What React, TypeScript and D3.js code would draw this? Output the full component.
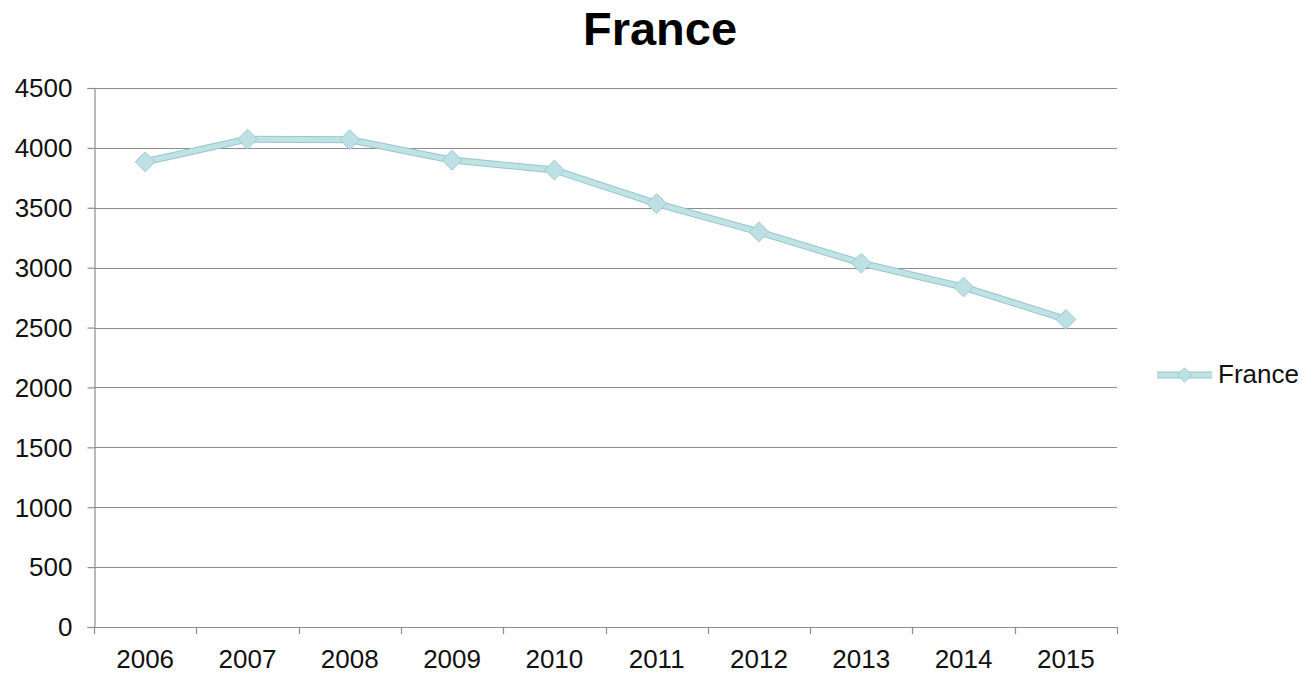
import React, { useEffect, useRef } from 'react'
import * as d3 from 'd3'

const years = ['2006', '2007', '2008', '2009', '2010', '2011', '2012', '2013', '2014', '2015']
const franceValues = [3884, 4073, 4068, 3898, 3815, 3535, 3298, 3038, 2838, 2568]
const yTicks = [0, 500, 1000, 1500, 2000, 2500, 3000, 3500, 4000, 4500]

export default function App() {
    const ref = useRef<SVGSVGElement>(null)

    useEffect(() => {
        const svg = d3.select(ref.current)
        svg.selectAll('*').remove()

        const width = 1302
        const height = 674
        const margin = { top: 88, right: 185, bottom: 47, left: 94 }
        const font = 'Liberation Sans, Arial, sans-serif'

        const x = d3.scaleBand()
            .domain(years)
            .range([margin.left, width - margin.right])

        const y = d3.scaleLinear()
            .domain([0, 4500])
            .range([height - margin.bottom, margin.top])

        // gridlines
        svg.append('g')
            .selectAll('line')
            .data(yTicks.filter(d => d > 0))
            .enter()
            .append('line')
            .attr('x1', margin.left)
            .attr('x2', width - margin.right)
            .attr('y1', d => Math.round(y(d)) + 0.5)
            .attr('y2', d => Math.round(y(d)) + 0.5)
            .attr('stroke', '#8c8c8c')
            .attr('stroke-width', 1.2)

        // y axis
        const yAxis = svg.append('g')
            .attr('transform', `translate(${margin.left + 0.5}, 0)`)
            .call(d3.axisLeft(y).tickValues(yTicks).tickSize(7).tickPadding(15).tickFormat(d3.format('d')))
        yAxis.select('.domain').attr('stroke', '#8c8c8c').attr('stroke-width', 1.2)
        yAxis.selectAll('.tick line').attr('stroke', '#8c8c8c').attr('stroke-width', 1.2)
        yAxis.selectAll('.tick text')
            .attr('font-family', font)
            .attr('font-size', 26)
            .attr('dy', '0.34em')
            .attr('fill', '#111')

        // x axis
        const xBoundaries = years.map(yr => x(yr) as number).concat([width - margin.right])
        const xAxisG = svg.append('g')
        xAxisG.append('line')
            .attr('x1', margin.left)
            .attr('x2', width - margin.right)
            .attr('y1', Math.round(y(0)) + 0.5)
            .attr('y2', Math.round(y(0)) + 0.5)
            .attr('stroke', '#8c8c8c')
            .attr('stroke-width', 1.2)
        xAxisG.selectAll('line.tk')
            .data(xBoundaries)
            .enter()
            .append('line')
            .attr('class', 'tk')
            .attr('x1', d => Math.round(d) + 0.5)
            .attr('x2', d => Math.round(d) + 0.5)
            .attr('y1', y(0))
            .attr('y2', y(0) + 7)
            .attr('stroke', '#8c8c8c')
            .attr('stroke-width', 1.2)
        xAxisG.selectAll('text')
            .data(years)
            .enter()
            .append('text')
            .attr('x', d => (x(d) as number) + x.bandwidth() / 2)
            .attr('y', 668)
            .attr('text-anchor', 'middle')
            .attr('font-family', font)
            .attr('font-size', 26)
            .attr('fill', '#111')
            .text(d => d)

        // series line
        const line = d3.line<number>()
            .x((_, i) => (x(years[i]) as number) + x.bandwidth() / 2)
            .y(d => y(d))

        svg.append('path')
            .datum(franceValues)
            .attr('d', line)
            .attr('fill', 'none')
            .attr('stroke', '#98c6ca')
            .attr('stroke-width', 7)
            .attr('stroke-linejoin', 'round')
        svg.append('path')
            .datum(franceValues)
            .attr('d', line)
            .attr('fill', 'none')
            .attr('stroke', '#bfe2e5')
            .attr('stroke-width', 5)
            .attr('stroke-linejoin', 'round')

        const diamond = d3.symbol().type(d3.symbolDiamond2).size(250)

        svg.append('g')
            .selectAll('path')
            .data(franceValues)
            .enter()
            .append('path')
            .attr('d', diamond)
            .attr('transform', (d, i) => `translate(${(x(years[i]) as number) + x.bandwidth() / 2}, ${y(d)})`)
            .attr('fill', '#bce0e3')
            .attr('stroke', '#9fcbd0')
            .attr('stroke-width', 1)

        // title
        svg.append('text')
            .attr('x', 660)
            .attr('y', 45)
            .attr('text-anchor', 'middle')
            .attr('font-family', font)
            .attr('font-weight', 'bold')
            .attr('font-size', 47)
            .attr('fill', '#000')
            .text('France')

        // legend
        const lg = svg.append('g').attr('transform', 'translate(1157, 375)')
        lg.append('line').attr('x1', 0).attr('x2', 55).attr('y1', 0).attr('y2', 0)
            .attr('stroke', '#98c6ca').attr('stroke-width', 7)
        lg.append('line').attr('x1', 0).attr('x2', 55).attr('y1', 0).attr('y2', 0)
            .attr('stroke', '#bfe2e5').attr('stroke-width', 5)
        lg.append('path').attr('d', d3.symbol().type(d3.symbolDiamond2).size(130))
            .attr('transform', 'translate(27.5, 0)')
            .attr('fill', '#bce0e3').attr('stroke', '#9fcbd0')
        lg.append('text')
            .attr('x', 61)
            .attr('y', 8)
            .attr('font-family', font)
            .attr('font-size', 26)
            .attr('fill', '#111')
            .text('France')
    }, [])

    return (
        <div style={{ position: 'absolute', left: 0, top: 0 }}>
            <svg ref={ref} width={1302} height={674} style={{ display: 'block', background: '#fff' }} />
        </div>
    )
}
